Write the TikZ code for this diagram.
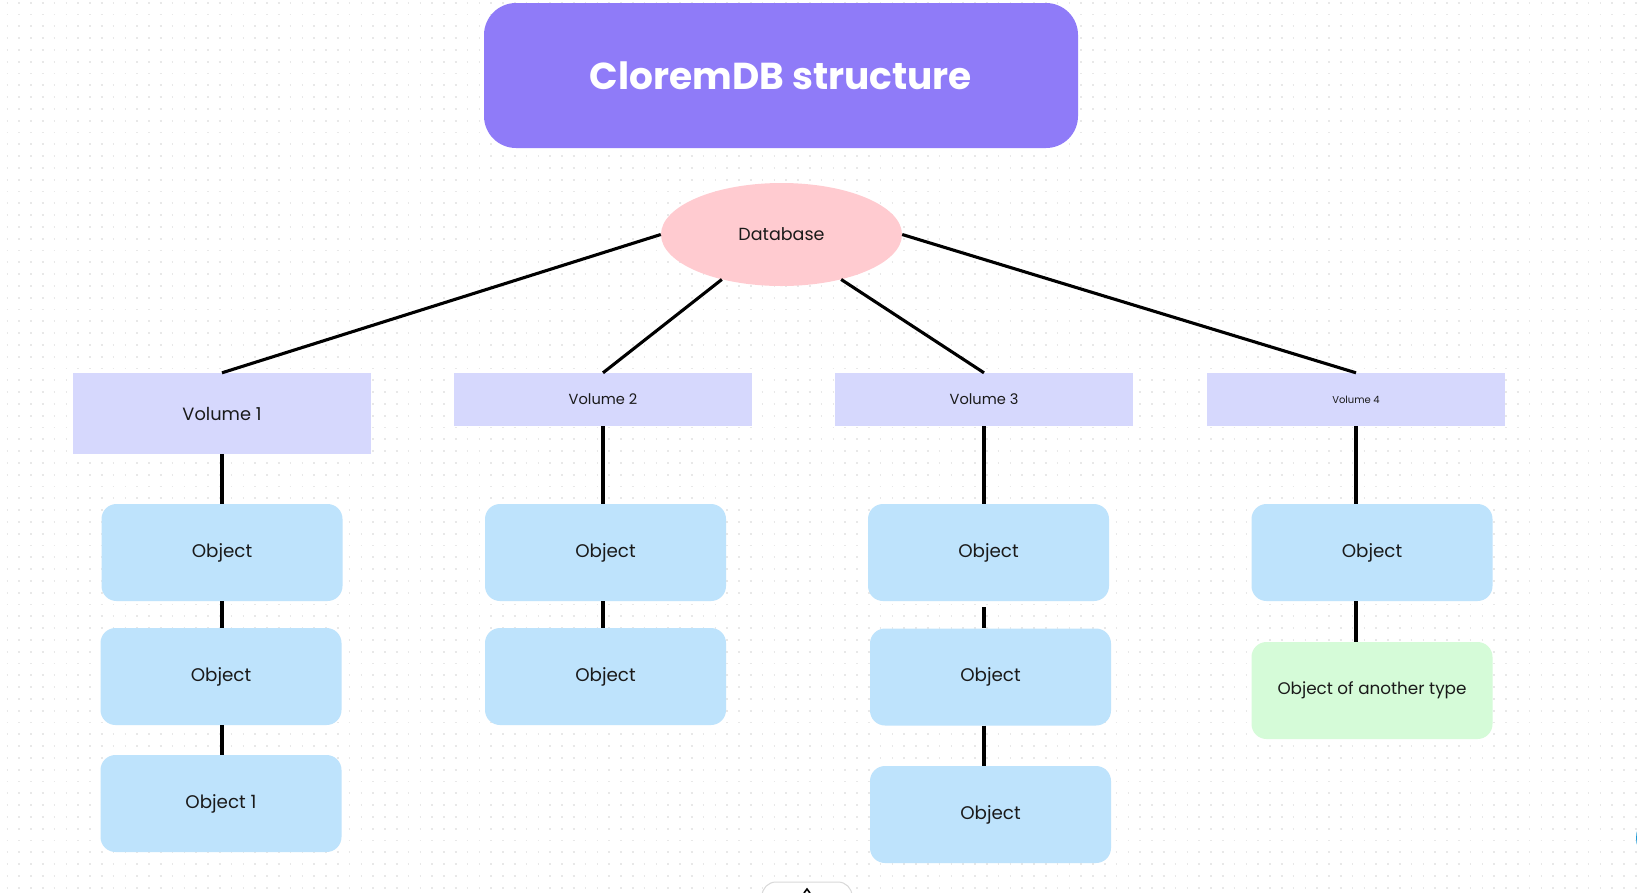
\documentclass[tikz,border=0pt]{standalone}
\usepackage{fontspec}
\setmainfont{Poppins}
\usetikzlibrary{shapes.geometric}
\definecolor{titlefill}{RGB}{143,123,248}
\definecolor{dbfill}{RGB}{255,203,208}
\definecolor{volfill}{RGB}{214,216,253}
\definecolor{objfill}{RGB}{190,227,252}
\definecolor{greenfill}{RGB}{213,251,216}
\definecolor{dotcol}{RGB}{232,232,232}
\definecolor{txt}{RGB}{26,26,26}
\definecolor{uiblue}{RGB}{30,155,215}
\tikzset{
  titlebox/.style={rectangle, rounded corners=32pt, fill=titlefill, minimum width=594pt, minimum height=145pt, inner sep=0pt, text=white, font=\fontsize{37.5}{44}\selectfont\bfseries},
  dbnode/.style={ellipse, fill=dbfill, minimum width=241pt, minimum height=103pt, inner sep=0pt, text=txt, font=\fontsize{17.5}{21}\selectfont},
  volbox/.style={rectangle, fill=volfill, minimum width=298pt, inner sep=0pt, text=txt},
  objbox/.style={rectangle, rounded corners=15pt, fill=objfill, minimum width=241pt, minimum height=97pt, inner sep=0pt, text=txt, font=\fontsize{18.3}{22}\selectfont},
  otherbox/.style={objbox, fill=greenfill, font=\fontsize{16.8}{20}\selectfont},
  link/.style={draw=black, line width=3.1pt},
  dotrow/.style={draw=dotcol, line width=1.7pt, dash pattern=on 1.7pt off 10.1pt, dash phase=-6.5pt}
}
\begin{document}
\begin{tikzpicture}[x=1pt, y=-1pt]
\useasboundingbox (0,0) rectangle (1637,892);
\fill[white] (0,0) rectangle (1637,892);
% dotted background
\foreach \r in {0,...,75} {
  \draw[dotrow] (0,{2.7+11.8*\r}) -- (1637,{2.7+11.8*\r});
}
% UI remnants
\draw[draw=black!15, fill=white, rounded corners=14pt, line width=1pt] (762,920) rectangle (852,882);
\draw[black, line width=1.6pt] (804,893) -- (807,889) -- (810,893);
\fill[uiblue] (1662,838) circle (26);

% nodes
\node[titlebox] (title) at (781,75.5) {CloremDB structure};
\node[dbnode] (db) at (781.5,234.5) {Database};

\node[volbox, minimum height=81pt, font=\fontsize{17.8}{22}\selectfont] (v1) at (222,413.5) {Volume 1};
\node[volbox, minimum height=53pt, font=\fontsize{14.6}{18}\selectfont] (v2) at (603,399.5) {Volume 2};
\node[volbox, minimum height=53pt, font=\fontsize{14.6}{18}\selectfont] (v3) at (984,399.5) {Volume 3};
\node[volbox, minimum height=53pt, font=\fontsize{10}{12}\selectfont] (v4) at (1356,399.5) {Volume 4};

\node[objbox] (o11) at (222,552.5) {Object};
\node[objbox] (o12) at (221,676.5) {Object};
\node[objbox] (o13) at (221,803.5) {Object 1};

\node[objbox] (o21) at (605.5,552.5) {Object};
\node[objbox] (o22) at (605.5,676.5) {Object};

\node[objbox] (o31) at (988.5,552.5) {Object};
\node[objbox] (o32) at (990.5,677) {Object};
\node[objbox] (o33) at (990.5,814.5) {Object};

\node[objbox] (o41) at (1372,552.5) {Object};
\node[otherbox] (o42) at (1372,690.5) {Object of another type};

% connectors from the database
\draw[link] (db.west) -- (v1.north);
\draw[link] (db.217) -- (v2.north);
\draw[link] (db.323) -- (v3.north);
\draw[link] (db.east) -- (v4.north);

% column 1
\draw[link] (v1.south) -- (v1.south |- o11.north);
\draw[link] (o11.south -| v1.south) -- (o12.north -| v1.south);
\draw[link] (o12.south -| v1.south) -- (o13.north -| v1.south);
% column 2
\draw[link] (v2.south) -- (v2.south |- o21.north);
\draw[link] (o21.south -| v2.south) -- (o22.north -| v2.south);
% column 3
\draw[link] (v3.south) -- (v3.south |- o31.north);
\draw[link] ([yshift=-6pt]o31.south -| v3.south) -- (o32.north -| v3.south);
\draw[link] (o32.south -| v3.south) -- (o33.north -| v3.south);
% column 4
\draw[link] (v4.south) -- (v4.south |- o41.north);
\draw[link] (o41.south -| v4.south) -- (o42.north -| v4.south);
\end{tikzpicture}
\end{document}
